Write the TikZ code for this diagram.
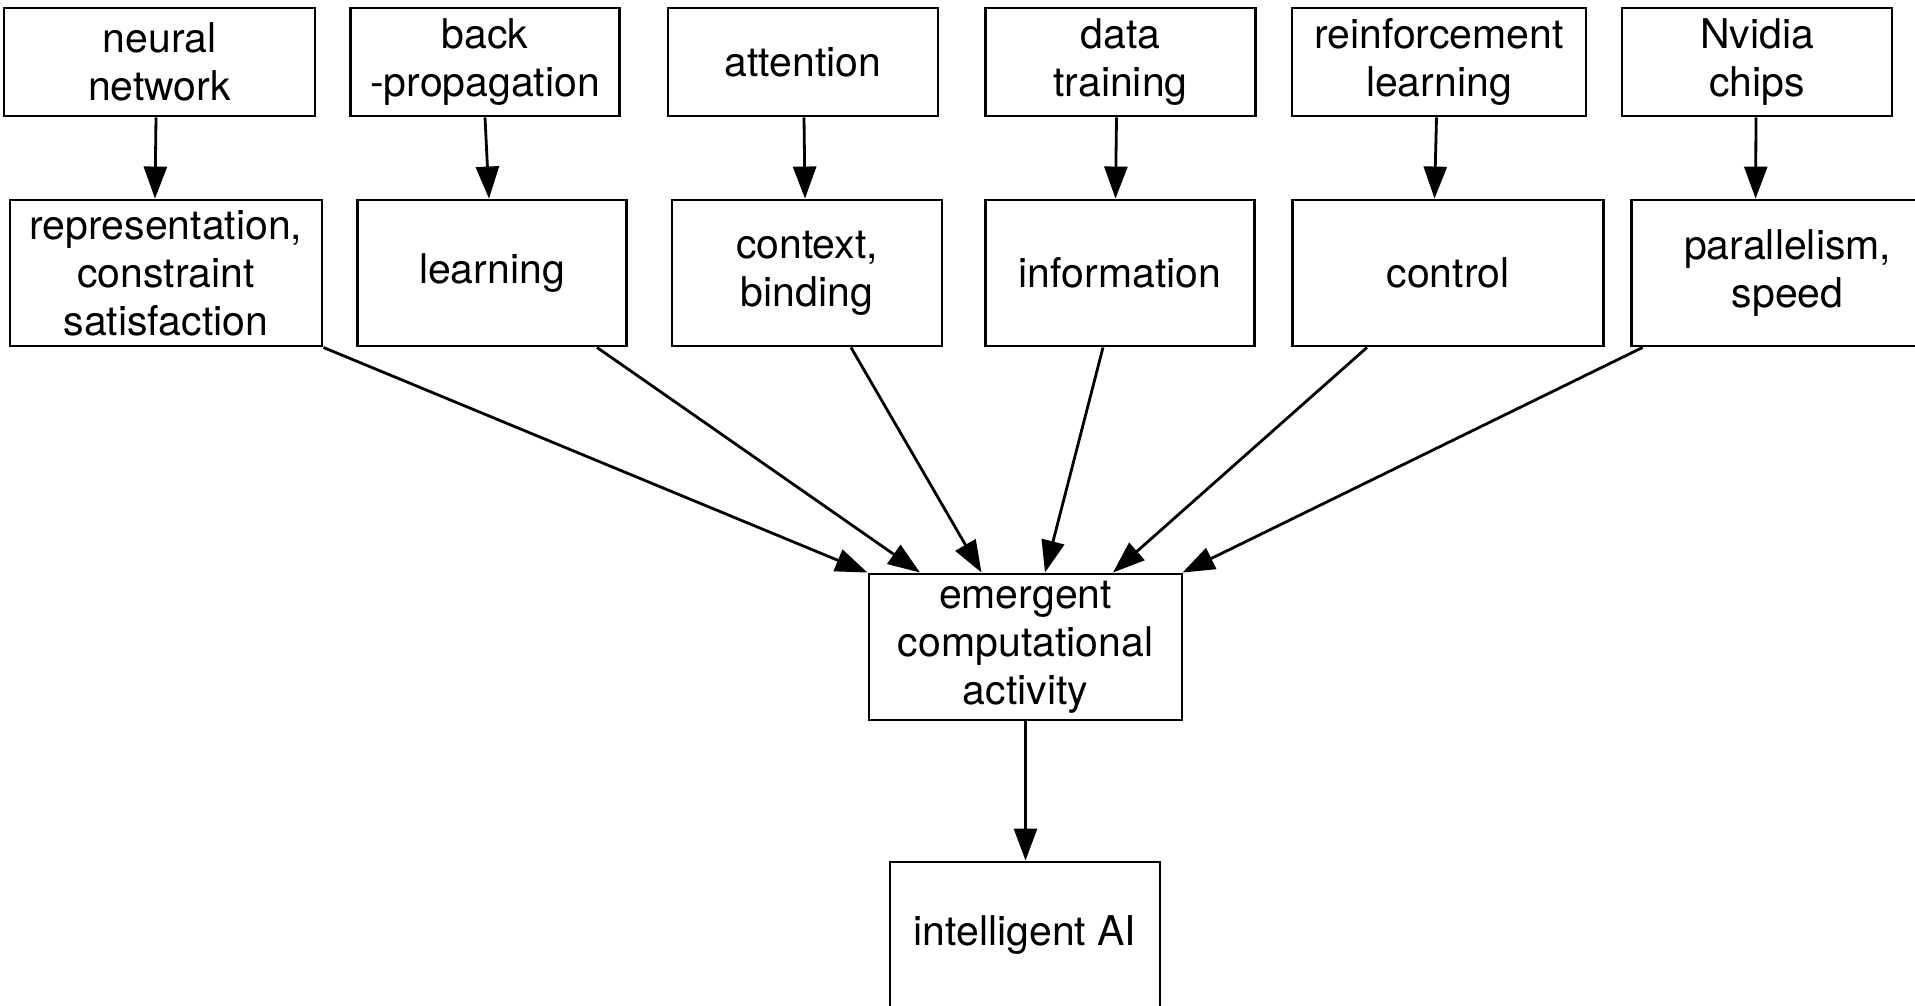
\documentclass[tikz,border=0pt]{standalone}
\usepackage{fontspec}
\setmainfont{TeX Gyre Heros}
\usetikzlibrary{arrows.meta}
\begin{document}
\begin{tikzpicture}[x=1pt,y=-1pt,
  box/.style={draw, line width=2.9pt, inner sep=0pt, align=center, font=\fontsize{41}{48}\selectfont},
  top/.style={box, minimum height=108pt},
  mid/.style={box, minimum height=146pt},
  arr/.style={line width=2.8pt, -{Triangle[length=32pt,width=23pt]}}]
\useasboundingbox (0,0) rectangle (1915,1005);
\fill[white] (0,0) rectangle (1915,1005);
\clip (0,0) rectangle (1915,1005);
% row 1
\node[top, minimum width=311pt] (nn) at (159.5,62) {neural\\network};
\node[top, minimum width=269pt] (bp) at (485,62) {back\\-propagation};
\node[top, minimum width=270pt] (att) at (803,62) {attention};
\node[top, minimum width=270pt] (dt) at (1120.5,62) {data\\training};
\node[top, minimum width=294pt] (rl) at (1439,62) {reinforcement\\learning};
\node[top, minimum width=270pt] (nv) at (1757,62) {Nvidia\\chips};
% row 2
\node[mid, minimum width=312pt] (rep) at (166,273) {representation,\\constraint\\satisfaction};
\node[mid, minimum width=269pt] (learn) at (492,273) {learning};
\node[mid, minimum width=270pt] (ctx) at (807,273) {context,\\binding};
\node[mid, minimum width=269pt] (info) at (1120,273) {information};
\node[mid, minimum width=311pt] (ctrl) at (1448,273) {control};
\node[mid, minimum width=312pt] (par) at (1787.6,273) {parallelism,\\speed};
% lower
\node[mid, minimum width=313pt] (em) at (1025.5,647) {emergent\\computational\\activity};
\node[mid, minimum width=270pt] (ai) at (1025,935) {intelligent AI};
% arrows
\draw[arr] ([xshift=-3.5pt]nn.south) -- ([xshift=-11pt]rep.north);
\draw[arr] ([xshift=0pt]bp.south) -- ([xshift=-3pt]learn.north);
\draw[arr] ([xshift=1pt]att.south) -- ([xshift=-2pt]ctx.north);
\draw[arr] ([xshift=-4pt]dt.south) -- ([xshift=-4.5pt]info.north);
\draw[arr] ([xshift=-2.5pt]rl.south) -- ([xshift=-13.5pt]ctrl.north);
\draw[arr] ([xshift=-1pt]nv.south) -- ([xshift=-32pt]par.north);
\draw[arr] (rep.south east) -- ([xshift=-158pt]em.north);
\draw[arr] ([xshift=105pt]learn.south) -- ([xshift=-105.5pt]em.north);
\draw[arr] ([xshift=44pt]ctx.south) -- ([xshift=-44pt]em.north);
\draw[arr] ([xshift=-17pt]info.south) -- ([xshift=19.5pt]em.north);
\draw[arr] ([xshift=-81pt]ctrl.south) -- ([xshift=87.5pt]em.north);
\draw[arr] ([xshift=-145pt]par.south) -- ([xshift=157pt]em.north);
\draw[arr] (em.south) -- (em.south |- ai.north);
\end{tikzpicture}
\end{document}
